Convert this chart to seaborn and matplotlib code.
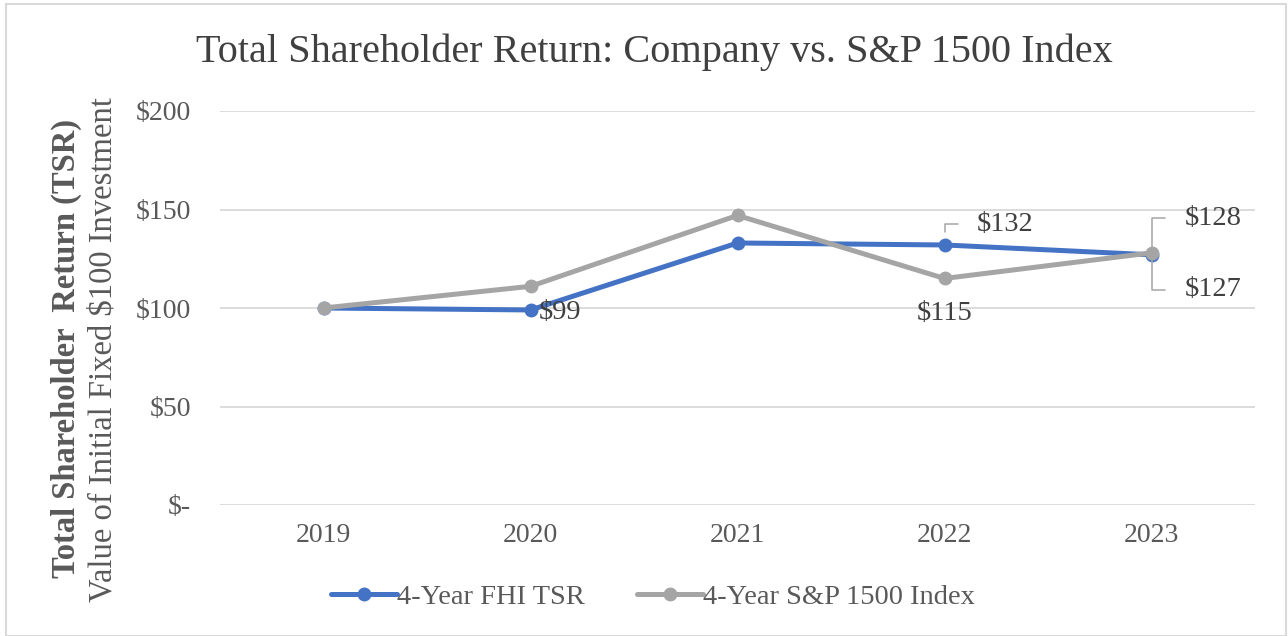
import matplotlib
matplotlib.use("Agg")
import matplotlib.pyplot as plt
import seaborn as sns
import pandas as pd
from matplotlib.patches import Rectangle
from matplotlib.lines import Line2D

years = ["2019", "2020", "2021", "2022", "2023"]
fhi_tsr = [100, 99, 133, 132, 127]
sp1500 = [100, 111, 147, 115, 128]
series_names = ["4-Year FHI TSR", "4-Year S&P 1500 Index"]
colors = ["#4472C4", "#A5A5A5"]
yticks = [0, 50, 100, 150, 200]
ytick_labels = ["$-", "$50", "$100", "$150", "$200"]

sns.set_theme(style="white")
plt.rcParams["font.family"] = ["Liberation Serif", "DejaVu Serif"]

df = pd.DataFrame({
    "Value": fhi_tsr + sp1500,
    "Series": [series_names[0]] * len(years) + [series_names[1]] * len(years),
})
df["x"] = list(range(len(years))) * 2

fig = plt.figure(figsize=(12.88, 6.36), dpi=100)
ax = fig.add_axes([220 / 1288, 1 - 505 / 636, 1035 / 1288, 394 / 636])

sns.lineplot(data=df, x="x", y="Value", hue="Series", palette=colors,
             marker="o", markersize=10, linewidth=3.6, markeredgewidth=0,
             ax=ax, legend=False, hue_order=series_names)

ax.set_xlim(-0.5, len(years) - 0.5)
ax.set_ylim(0, 200)
ax.set_xticks(range(len(years)))
ax.set_xticklabels(years)
ax.set_yticks(yticks)
ax.set_yticklabels(ytick_labels)
ax.yaxis.grid(True, color="#D9D9D9", linewidth=1.3)
ax.xaxis.grid(False)
for s in ax.spines.values():
    s.set_visible(False)
ax.tick_params(axis="both", length=0, labelsize=20, labelcolor="#595959")
ax.tick_params(axis="y", pad=21)
ax.tick_params(axis="x", pad=13)
ax.set_xlabel("")
ax.set_ylabel("")

txt = dict(fontsize=20.5, color="#404040")
lead = dict(arrowstyle="-", color="#A6A6A6", lw=1.1,
            connectionstyle="angle,angleA=0,angleB=90,rad=0", relpos=(0, 0.5))
# $99 label at FHI 2020
ax.annotate(f"${fhi_tsr[1]}", xy=(1, fhi_tsr[1]), xytext=(6, -2),
            textcoords="offset points", ha="left", va="center", **txt)
# $132 label at FHI 2022 with leader
ax.annotate(f"${fhi_tsr[3]}", xy=(3, fhi_tsr[3]), xytext=(23, 15),
            textcoords="offset points", ha="left", va="center",
            arrowprops=dict(shrinkA=11, shrinkB=9, **lead), **txt)
# $115 label below S&P 2022
ax.annotate(f"${sp1500[3]}", xy=(3, sp1500[3]), xytext=(0, -25),
            textcoords="offset points", ha="center", va="center", **txt)
# $128 label S&P 2023 above-right
ax.annotate(f"${sp1500[4]}", xy=(4, sp1500[4]), xytext=(24, 25),
            textcoords="offset points", ha="left", va="center",
            arrowprops=dict(shrinkA=12, shrinkB=4, **lead), **txt)
# $127 label FHI 2023 below-right
ax.annotate(f"${fhi_tsr[4]}", xy=(4, fhi_tsr[4]), xytext=(24, -25),
            textcoords="offset points", ha="left", va="center",
            arrowprops=dict(shrinkA=12, shrinkB=4, **lead), **txt)

fig.text(654 / 1288, 1 - 52 / 636, "Total Shareholder Return: Company vs. S&P 1500 Index",
         ha="center", va="center", fontsize=29, color="#404040")
fig.text(66 / 1288, 1 - 349 / 636, "Total Shareholder  Return (TSR)", rotation=90,
         ha="center", va="center", fontsize=23.5, fontweight="bold", color="#595959")
fig.text(103 / 1288, 1 - 350 / 636, "Value of Initial Fixed $100 Investment", rotation=90,
         ha="center", va="center", fontsize=23.5, color="#595959")

handles = [Line2D([0], [0], color=c, lw=3.6, marker="o", markersize=10,
                  markeredgewidth=0) for c in colors]
leg = fig.legend(handles, series_names, loc="center", bbox_to_anchor=(653 / 1288, 1 - 597 / 636),
                 ncol=2, frameon=False, fontsize=20.5, handlelength=2.3,
                 handletextpad=0.0, columnspacing=1.85, borderpad=0)
for t in leg.get_texts():
    t.set_color("#595959")

fig.patches.append(Rectangle((6 / 1288, 0), 1280 / 1288, 1 - 4 / 636, transform=fig.transFigure,
                             fill=False, edgecolor="#D9D9D9", linewidth=1.5))

fig.savefig("out.png", dpi=100)
